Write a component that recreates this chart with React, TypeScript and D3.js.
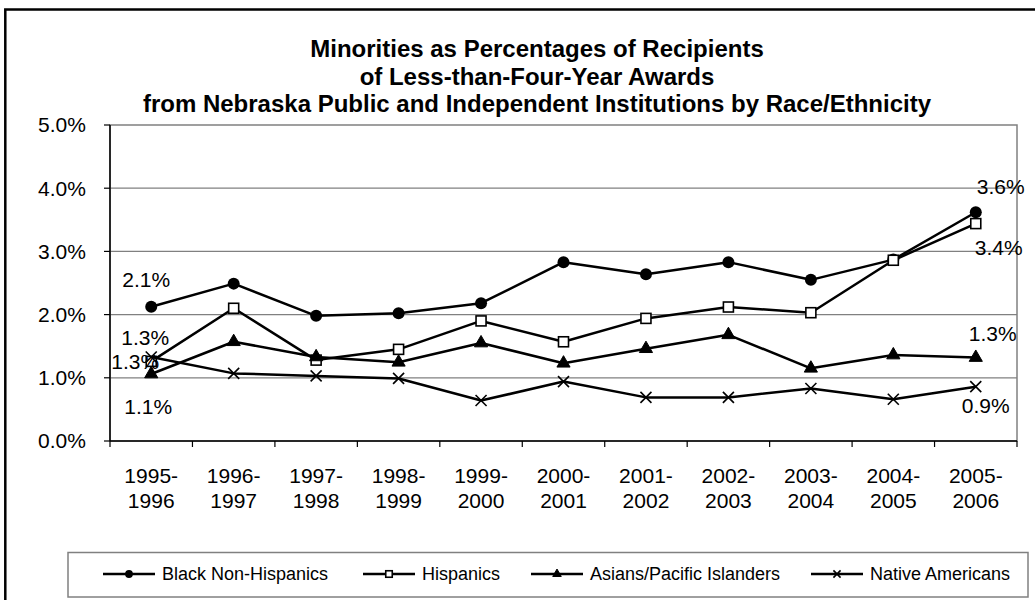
import React from "react";
import * as d3 from "d3";

const categories = ["1995-1996", "1996-1997", "1997-1998", "1998-1999", "1999-2000", "2000-2001", "2001-2002", "2002-2003", "2003-2004", "2004-2005", "2005-2006"];
const blackNonHispanics = [2.125, 2.49, 1.98, 2.02, 2.18, 2.83, 2.64, 2.83, 2.55, 2.87, 3.62];
const hispanics = [1.26, 2.1, 1.28, 1.45, 1.9, 1.57, 1.94, 2.12, 2.03, 2.86, 3.44];
const asiansPacificIslanders = [1.06, 1.57, 1.33, 1.245, 1.55, 1.23, 1.46, 1.68, 1.15, 1.36, 1.32];
const nativeAmericans = [1.33, 1.07, 1.03, 0.99, 0.64, 0.94, 0.69, 0.69, 0.83, 0.66, 0.86];
const yTicks = [0, 1, 2, 3, 4, 5];
const titleLines = [
  "Minorities as Percentages of Recipients",
  "of Less-than-Four-Year Awards",
  "from Nebraska Public and Independent Institutions by Race/Ethnicity",
];

type Marker = "circle" | "square" | "triangle" | "cross";
const series: { name: string; values: number[]; marker: Marker; first: [number, number]; last: [number, number] }[] = [
  { name: "Black Non-Hispanics", values: blackNonHispanics, marker: "circle", first: [-5, -27], last: [25, -26] },
  { name: "Hispanics", values: hispanics, marker: "square", first: [-16, 0], last: [23, 24] },
  { name: "Asians/Pacific Islanders", values: asiansPacificIslanders, marker: "triangle", first: [-3, 33], last: [17, -24] },
  { name: "Native Americans", values: nativeAmericans, marker: "cross", first: [-6, -19], last: [10, 19] },
];

const FONT = "'Liberation Sans', Arial, sans-serif";

function MarkerShape({ type, x, y, s = 1 }: { type: Marker; x: number; y: number; s?: number }) {
  if (type === "circle") return <circle cx={x} cy={y} r={6 * s} fill="#000" />;
  if (type === "square")
    return <rect x={x - 5 * s} y={y - 5 * s} width={10 * s} height={10 * s} fill="#fff" stroke="#000" strokeWidth={1.6} />;
  if (type === "triangle") {
    const p = d3.symbol().type(d3.symbolTriangle).size(75 * s * s)();
    return <path d={p || ""} transform={`translate(${x},${y})`} fill="#000" stroke="#000" strokeWidth={1} />;
  }
  const r = 5.5 * s;
  return (
    <g stroke="#000" strokeWidth={1.6}>
      <line x1={x - r} y1={y - r} x2={x + r} y2={y + r} />
      <line x1={x - r} y1={y + r} x2={x + r} y2={y - r} />
    </g>
  );
}

export default function App() {
  const left = 110, right = 1017, top = 125, bottom = 441;
  const x = d3.scaleBand<string>().domain(categories).range([left, right]).padding(0);
  const y = d3.scaleLinear().domain([0, 5]).range([bottom, top]);
  const cx = (c: string) => (x(c) as number) + x.bandwidth() / 2;
  const line = d3
    .line<number>()
    .x((_, i) => cx(categories[i]))
    .y((v) => y(v));
  const fmt = (v: number) => d3.format(".1f")(v) + "%";

  const legendItems = [103, 363, 531, 811];

  return (
    <svg width={1035} height={600} style={{ position: "absolute", left: 0, top: 0, display: "block" }} fontFamily={FONT}>
      <rect x={0} y={0} width={1035} height={600} fill="#fff" />
      <rect x={5.3} y={9.5} width={1040} height={600} fill="none" stroke="#000" strokeWidth={2.5} />
      {titleLines.map((t, i) => (
        <text key={i} x={537} y={57 + i * 27.5} textAnchor="middle" fontSize={24} fontWeight="bold" fill="#000">
          {t}
        </text>
      ))}
      {/* plot frame */}
      <rect x={left} y={top} width={right - left} height={bottom - top} fill="#fff" stroke="#808080" strokeWidth={1.5} />
      {yTicks.slice(1, -1).map((t) => (
        <line key={t} x1={left} x2={right} y1={y(t)} y2={y(t)} stroke="#808080" strokeWidth={1.2} />
      ))}
      {/* axes */}
      <line x1={left} x2={left} y1={top} y2={bottom} stroke="#000" strokeWidth={1.5} />
      <line x1={left} x2={right} y1={bottom} y2={bottom} stroke="#000" strokeWidth={1.5} />
      {yTicks.map((t) => (
        <g key={t}>
          <line x1={left - 6} x2={left} y1={y(t)} y2={y(t)} stroke="#000" strokeWidth={1.2} />
          <text x={86} y={y(t)} dy="0.35em" textAnchor="end" fontSize={21} fill="#000">
            {t.toFixed(1)}%
          </text>
        </g>
      ))}
      {categories.map((c, i) => (
        <line key={c} x1={x(c) as number} x2={x(c) as number} y1={bottom} y2={bottom + 6} stroke="#000" strokeWidth={1.2} />
      ))}
      <line x1={right} x2={right} y1={bottom} y2={bottom + 6} stroke="#000" strokeWidth={1.2} />
      {categories.map((c) => {
        const [a, b] = c.split("-");
        return (
          <text key={c} x={cx(c)} textAnchor="middle" fontSize={21} fill="#000">
            <tspan x={cx(c)} y={483}>{a}-</tspan>
            <tspan x={cx(c)} y={508}>{b}</tspan>
          </text>
        );
      })}
      {/* series */}
      {series.map((s) => (
        <g key={s.name}>
          <path d={line(s.values) || ""} fill="none" stroke="#000" strokeWidth={2.5} strokeLinejoin="round" />
          {s.values.map((v, i) => (
            <MarkerShape key={i} type={s.marker} x={cx(categories[i])} y={y(v)} />
          ))}
        </g>
      ))}
      {series.map((s) => {
        const n = s.values.length - 1;
        return (
          <g key={s.name + "lbl"} fontSize={21} fill="#000">
            <text x={cx(categories[0]) + s.first[0]} y={y(s.values[0]) + s.first[1]} dy="0.35em" textAnchor="middle">
              {fmt(s.values[0])}
            </text>
            <text x={cx(categories[n]) + s.last[0]} y={y(s.values[n]) + s.last[1]} dy="0.35em" textAnchor="middle">
              {fmt(s.values[n])}
            </text>
          </g>
        );
      })}
      {/* legend */}
      <rect x={68} y={552.5} width={960} height={44.5} fill="#fff" stroke="#808080" strokeWidth={1.5} />
      {series.map((s, i) => {
        const lx = legendItems[i];
        const ly = 574;
        return (
          <g key={s.name + "leg"}>
            <line x1={lx} x2={lx + 52} y1={ly} y2={ly} stroke="#000" strokeWidth={2.5} />
            <MarkerShape type={s.marker} x={lx + 26} y={ly} s={0.65} />
            <text x={lx + 59} y={ly} dy="0.35em" fontSize={18} fill="#000">
              {s.name}
            </text>
          </g>
        );
      })}
    </svg>
  );
}
